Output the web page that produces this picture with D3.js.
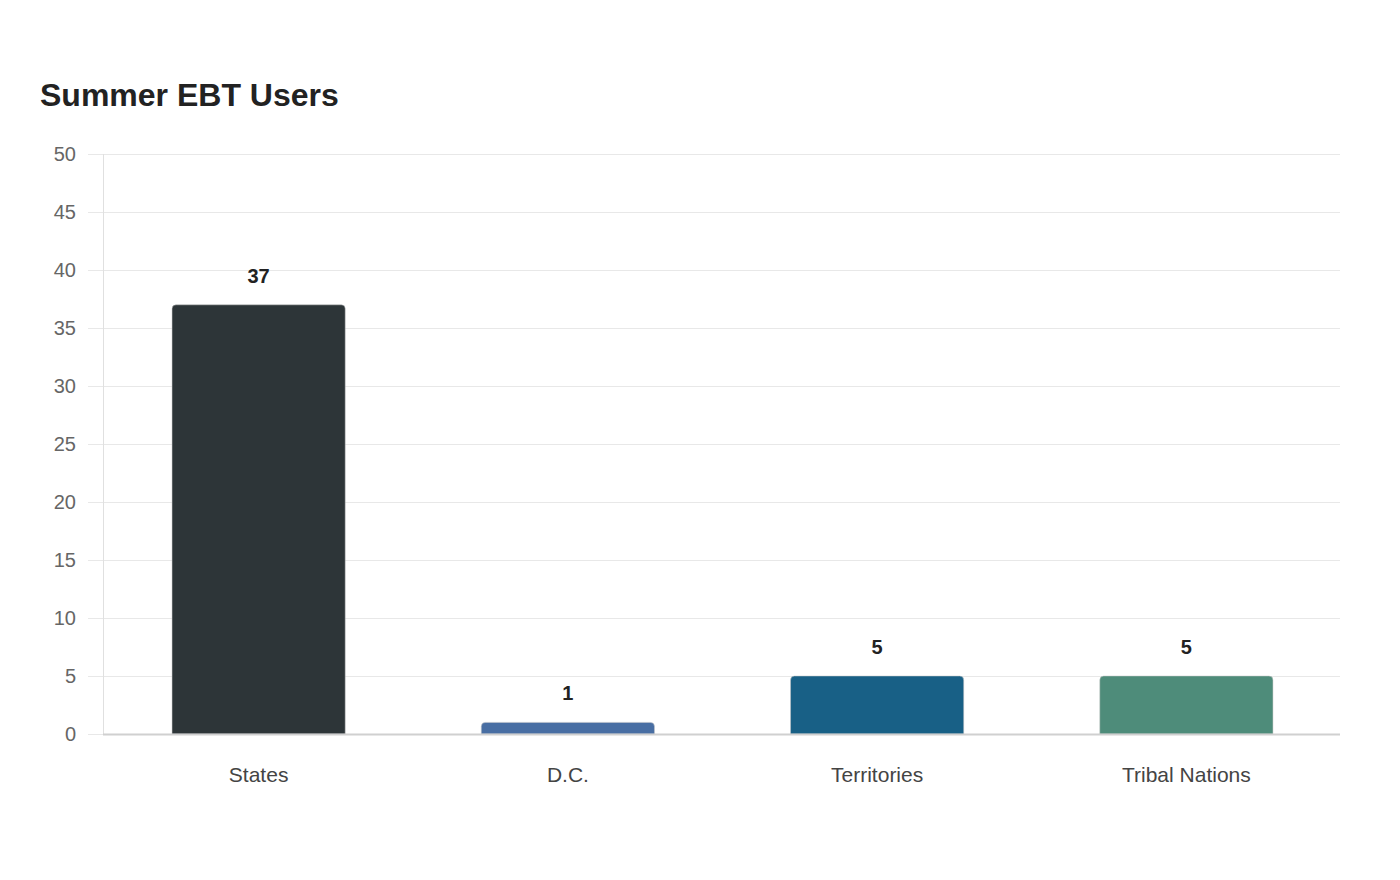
<!DOCTYPE html>
<html>
<head>
<meta charset="utf-8">
<script src="https://cdn.jsdelivr.net/npm/d3@7"></script>
<style>
    body { margin: 0; background: #fff; font-family: "Liberation Sans", Arial, sans-serif; }
</style>
</head>
<body>
<div id="chart"></div>
<script>
const categories = ["States", "D.C.", "Territories", "Tribal Nations"];
const values = [37, 1, 5, 5];
const barColors = ["#2d3538", "#486ea3", "#186086", "#4e8c7a"];
const yTicks = [0, 5, 10, 15, 20, 25, 30, 35, 40, 45, 50];

const W = 1400, H = 880;
const margin = { top: 154, right: 60, bottom: 146, left: 103 };
const width = W - margin.left - margin.right,
      height = H - margin.top - margin.bottom;

const svg = d3.select("#chart").append("svg")
    .attr("width", W)
    .attr("height", H);

svg.append("text")
    .attr("x", 40)
    .attr("y", 106)
    .style("font-size", "32px")
    .style("font-weight", "bold")
    .style("fill", "#222")
    .text("Summer EBT Users");

const g = svg.append("g")
    .attr("transform", "translate(" + margin.left + "," + margin.top + ")");

const x = d3.scaleBand()
    .domain(categories)
    .range([1, width + 1])
    .paddingInner(0.44)
    .paddingOuter(0.22);

const y = d3.scaleLinear()
    .domain([0, 50])
    .range([height, 0]);

// grid + y labels
const yAxis = g.append("g")
    .call(d3.axisLeft(y).tickValues(yTicks).tickSize(-width - 15).tickPadding(12));
yAxis.select(".domain").remove();
yAxis.selectAll(".tick line")
    .attr("x1", -15)
    .attr("x2", width)
    .style("stroke", "#e8e8e8");
yAxis.selectAll(".tick text")
    .attr("x", -27)
    .style("font-size", "20px")
    .style("font-family", "Liberation Sans, Arial, sans-serif")
    .style("fill", "#666");

// vertical axis line
g.append("line")
    .attr("x1", 0.5).attr("x2", 0.5)
    .attr("y1", 0).attr("y2", height)
    .style("stroke", "#e0e0e0");

const r = 4;
g.selectAll(".bar")
    .data(values)
    .enter()
    .append("path")
    .attr("class", "bar")
    .attr("d", function(d, i) {
        const x0 = x(categories[i]), x1 = x0 + x.bandwidth();
        const y0 = y(d), yb = y(0);
        return "M" + x0 + "," + yb +
               "V" + (y0 + r) +
               "Q" + x0 + "," + y0 + " " + (x0 + r) + "," + y0 +
               "H" + (x1 - r) +
               "Q" + x1 + "," + y0 + " " + x1 + "," + (y0 + r) +
               "V" + yb + "Z";
    })
    .style("fill", function(d, i) { return barColors[i]; })
    .style("stroke", "rgba(200,200,200,0.5)")
    .style("stroke-width", 1);

// baseline
g.append("line")
    .attr("x1", 0).attr("x2", width)
    .attr("y1", height + 0.5).attr("y2", height + 0.5)
    .style("stroke", "#d0d0d0")
    .style("stroke-width", 2);

// value labels
g.selectAll(".val")
    .data(values)
    .enter()
    .append("text")
    .attr("x", function(d, i) { return x(categories[i]) + x.bandwidth() / 2; })
    .attr("y", function(d) { return y(d) - 22; })
    .attr("text-anchor", "middle")
    .style("font-size", "20px")
    .style("font-weight", "bold")
    .style("fill", "#222")
    .text(function(d) { return d; });

// category labels
g.selectAll(".cat")
    .data(categories)
    .enter()
    .append("text")
    .attr("x", function(d) { return x(d) + x.bandwidth() / 2; })
    .attr("y", height + 48)
    .attr("text-anchor", "middle")
    .style("font-size", "21px")
    .style("fill", "#444")
    .text(function(d) { return d; });
</script>
</body>
</html>
